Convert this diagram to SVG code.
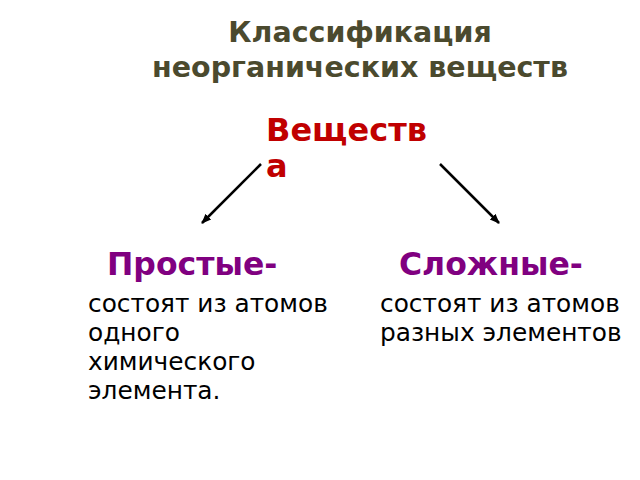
<svg xmlns="http://www.w3.org/2000/svg" width="640" height="480" viewBox="0 0 640 480">
<style>
.title{font-family:"DejaVu Sans",sans-serif;font-weight:bold;font-size:28.5px;fill:#4b4a2e;text-anchor:middle}
.root{font-family:"DejaVu Sans",sans-serif;font-weight:bold;font-size:32px;fill:#c00000}
.head{font-family:"DejaVu Sans",sans-serif;font-weight:bold;font-size:31.5px;fill:#800080}
.body{font-family:"DejaVu Sans",sans-serif;font-size:24.8px;fill:#000}
.conn{stroke:#000;stroke-width:2.5;fill:none;marker-end:url(#ah)}
</style>
<defs>
<marker id="ah" viewBox="0 0 10 10" refX="9" refY="5" markerWidth="4" markerHeight="4" orient="auto" markerUnits="strokeWidth">
<path d="M0,1 L10,5 L0,9 Z" fill="#000"/>
</marker>
</defs>
<rect width="640" height="480" fill="#fff"/>
<g id="title">
<text class="title" x="360" y="42">Классификация</text>
<text class="title" x="360" y="77">неорганических веществ</text>
</g>
<g id="root">
<text class="root" x="266" y="141">Веществ</text>
<text class="root" x="266" y="177">а</text>
</g>
<g id="connectors">
<line class="conn" x1="261" y1="164" x2="202" y2="223"/>
<line class="conn" x1="440" y1="164" x2="499" y2="223"/>
</g>
<g id="simple">
<text class="head" x="107" y="275">Простые-</text>
<text class="body" x="88" y="312">состоят из атомов</text>
<text class="body" x="88" y="341">одного</text>
<text class="body" x="88" y="370">химического</text>
<text class="body" x="88" y="399">элемента.</text>
</g>
<g id="complex">
<text class="head" x="399" y="275">Сложные-</text>
<text class="body" x="380" y="312">состоят из атомов</text>
<text class="body" x="380" y="341">разных элементов</text>
</g>
</svg>
